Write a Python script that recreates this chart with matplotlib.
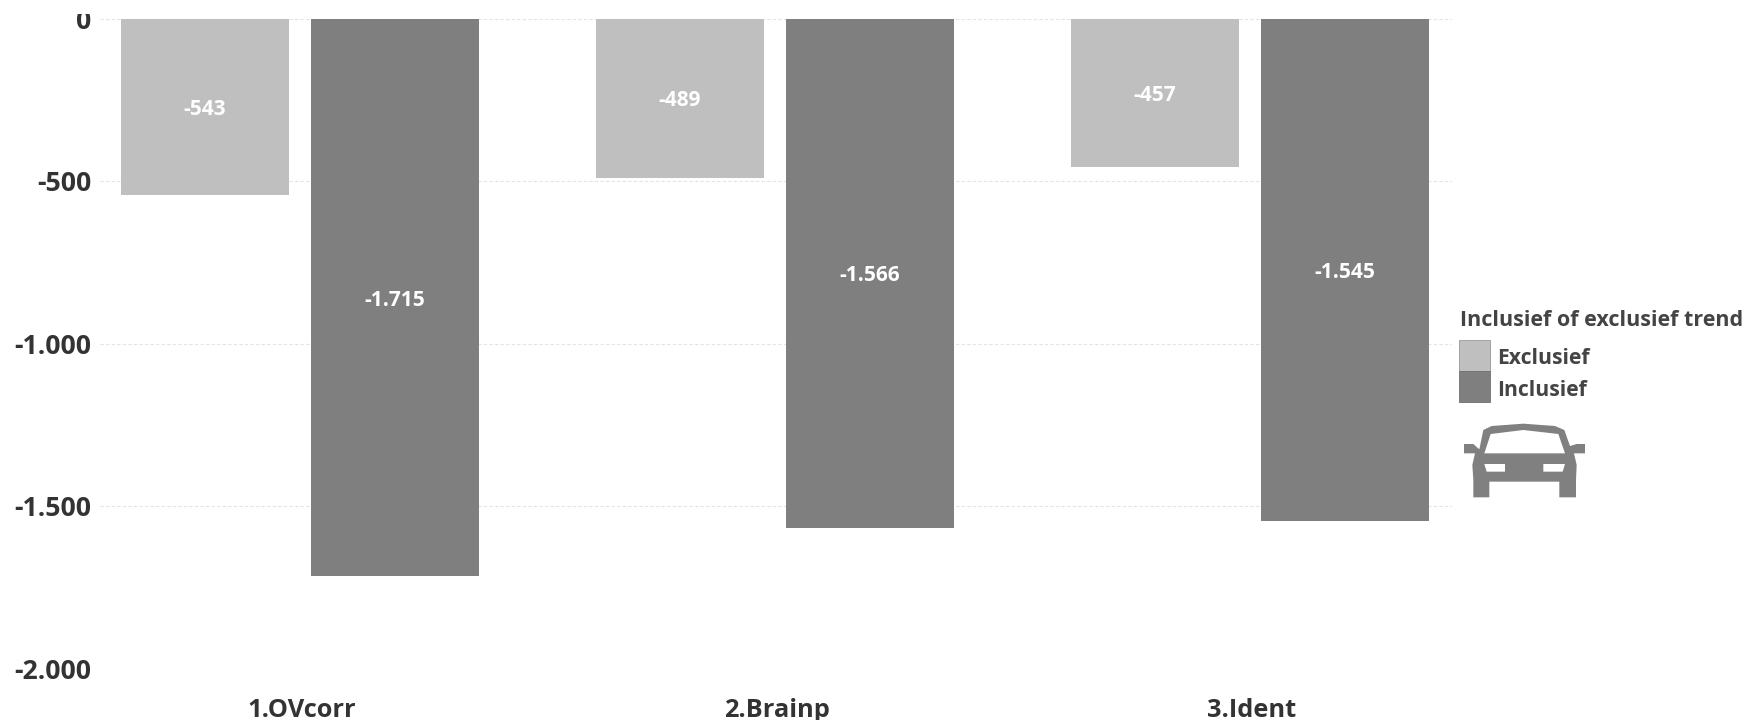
import numpy as np
import matplotlib
matplotlib.use('Agg')
import matplotlib.pyplot as plt
from matplotlib.patches import Rectangle, PathPatch
from matplotlib.path import Path

plt.rcParams['font.family'] = ['Open Sans', 'DejaVu Sans']

categories = ['1.OVcorr', '2.Brainp', '3.Ident']
exclusief = [-543, -489, -457]
inclusief = [-1715, -1566, -1545]
yticks = [0, -500, -1000, -1500, -2000]
series_names = ['Exclusief', 'Inclusief']
legend_title = 'Inclusief of exclusief trend'

LIGHT = '#BFBFBF'
DARK = '#7F7F7F'
W, H = 1747, 720


def fmt(v):
    # dutch thousands separator
    return f'{int(v):,}'.replace(',', '.')


fig = plt.figure(figsize=(W / 100, H / 100), dpi=100, facecolor='white')

# axes placed in pixels: x 100..1452, y 18.7..668.7
ax = fig.add_axes([100 / W, 1 - 668.7 / H, 1352 / W, 650 / H])
ax.set_ylim(-2000, 0)
ax.set_xlim(-200 / 475, 1152 / 475)

x = np.arange(len(categories))
bw = 0.355
bars1 = ax.bar(x - 0.2, exclusief, bw, color=LIGHT, zorder=2)
bars2 = ax.bar(x + 0.2, inclusief, bw, color=DARK, zorder=2)

for bars in (bars1, bars2):
    for b in bars:
        v = b.get_height()
        ax.annotate(fmt(v), (b.get_x() + b.get_width() / 2, v / 2), xytext=(0, -2),
                    textcoords='offset points', color='white', ha='center', va='center',
                    fontsize=15, fontweight='bold', zorder=3)

ax.set_yticks(yticks)
ax.set_yticklabels([fmt(v) for v in yticks], fontsize=19.2, fontweight='bold', color='#333333')
ax.set_xticks(x + 0.004)
ax.set_xticklabels(categories, fontsize=18.3, fontweight='bold', color='#333333')
ax.tick_params(axis='both', length=0)
ax.tick_params(axis='y', pad=6)
ax.tick_params(axis='x', pad=21)
ax.grid(axis='y', color='#E4E4E4', linestyle=(0, (3, 2)), linewidth=0.8, zorder=0)
ax.set_axisbelow(True)
for s in ax.spines.values():
    s.set_visible(False)

# the screenshot is cut off just above the top labels
fig.add_artist(Rectangle((0, 1 - 14 / H), 1, 14 / H, transform=fig.transFigure,
                         facecolor='white', edgecolor='none', zorder=5))

# legend and icon, in coordinates of a panel at the right
panel = fig.add_axes([1430 / W, 1 - 510 / H, 317 / W, 220 / H])
panel.set_xlim(0, 317)
panel.set_ylim(220, 0)
panel.axis('off')
panel.patch.set_alpha(0)

panel.text(30.5, 30.5, legend_title, fontsize=15.5, fontweight='bold', color='#444444',
           va='center', ha='left')
for i, (name, col) in enumerate(zip(series_names, [LIGHT, DARK])):
    panel.add_patch(Rectangle((29, 50 + i * 31), 31, 31, facecolor=col,
                              edgecolor='#999999' if i == 0 else '#707070', linewidth=0.6))
    panel.text(67.5, 68 + i * 32, name, fontsize=15.2, fontweight='bold', color='#444444',
               va='center', ha='left')

# car icon, outline first, then the holes running the other way round
body = [(160, 420), (185, 408), (280, 401), (375, 408), (403, 420), (420, 468), (440, 462), (465, 462),
        (465, 490), (432, 490), (440, 525), (438, 570), (438, 622), (388, 622), (388, 575), (178, 575),
        (178, 622), (130, 622), (130, 570), (127, 525), (135, 490), (102, 490), (102, 462), (130, 462),
        (148, 478), (160, 420)]
glass = [(182, 432), (163, 490), (405, 490), (385, 432), (280, 420), (182, 432)]
lamp_l = [(163, 522), (170, 545), (225, 545), (225, 522), (163, 522)]
lamp_r = [(340, 522), (340, 545), (398, 545), (405, 522), (340, 522)]
verts, codes = [], []
for poly in (body, glass, lamp_l, lamp_r):
    verts += poly
    codes += [Path.MOVETO] + [Path.LINETO] * (len(poly) - 2) + [Path.CLOSEPOLY]
panel.add_patch(PathPatch(Path(np.array(verts) / 3, codes), facecolor='#808080', edgecolor='none'))

fig.savefig('out.png', dpi=100, facecolor='white')
